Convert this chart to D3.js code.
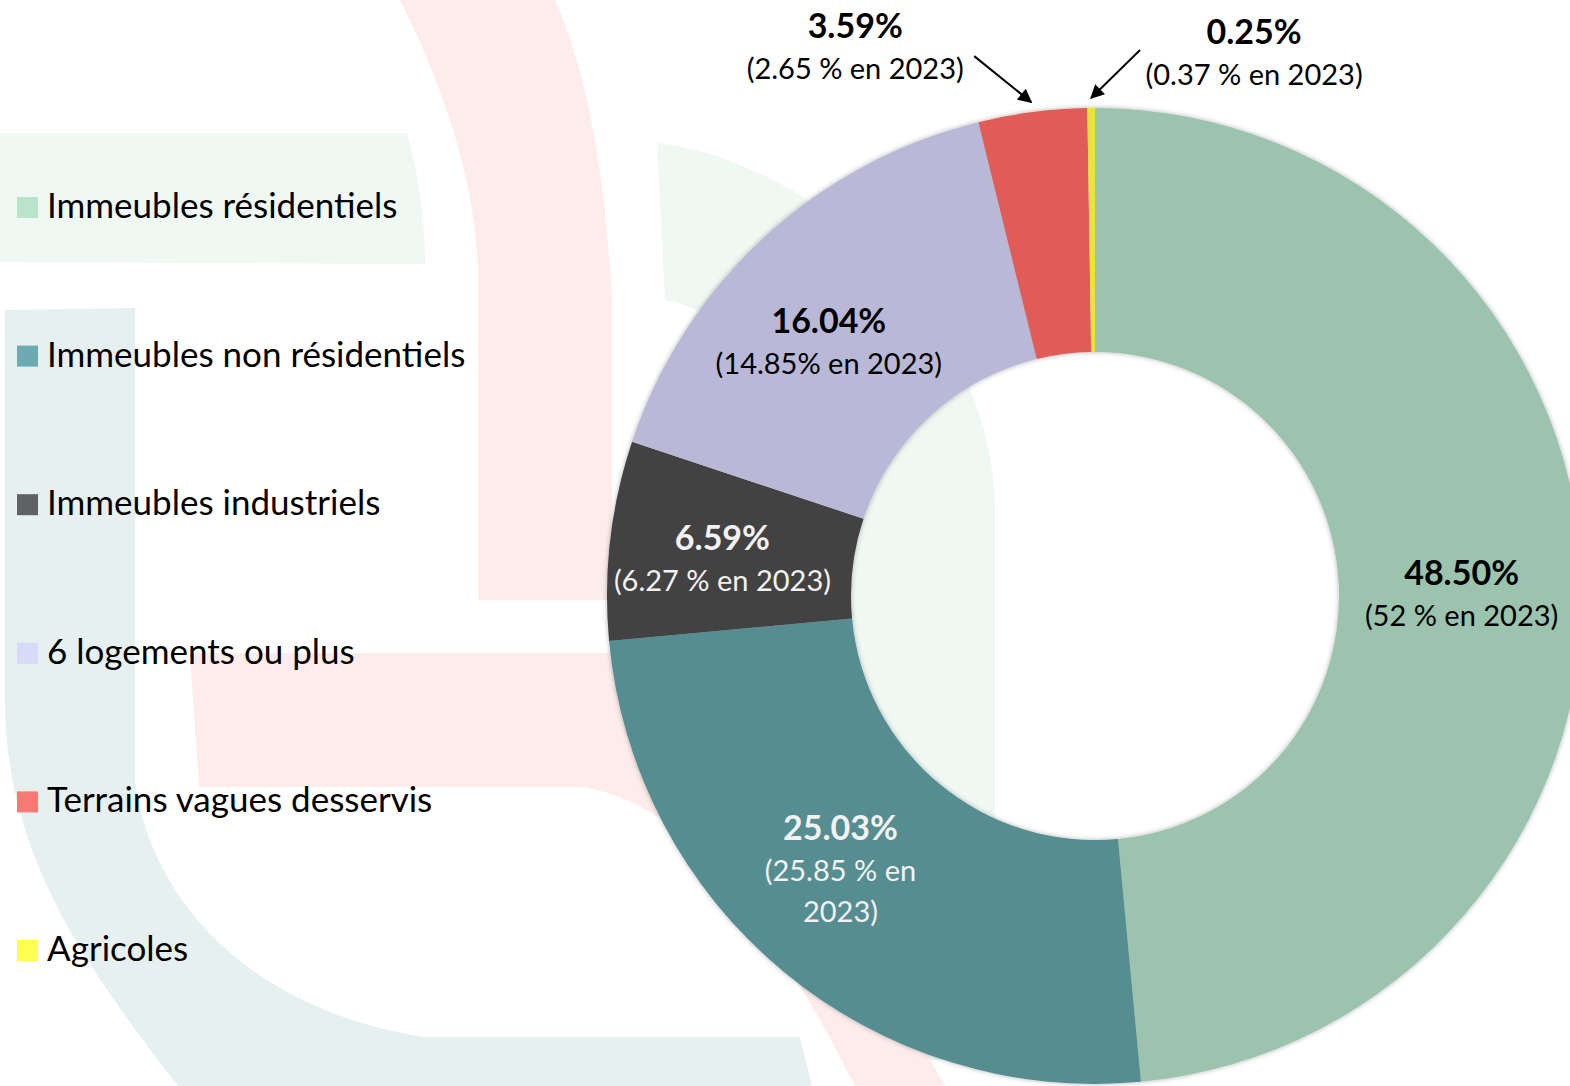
<!DOCTYPE html>
<html>
<head>
<meta charset="utf-8">
<script src="https://cdn.jsdelivr.net/npm/d3@7"></script>
<style>
  html, body { margin: 0; padding: 0; background: #ffffff; }
  svg { display: block; }
  text { font-family: Lato, "Open Sans", "Noto Sans", sans-serif; }
</style>
</head>
<body>
<svg id="chart" width="1570" height="1086"></svg>
<script>
// ---------- data ----------
const categories = [
  "Immeubles résidentiels",
  "Immeubles non résidentiels",
  "Immeubles industriels",
  "6 logements ou plus",
  "Terrains vagues desservis",
  "Agricoles"
];
const share2024 = [48.50, 25.03, 6.59, 16.04, 3.59, 0.25];
const share2023 = [52, 25.85, 6.27, 14.85, 2.65, 0.37];
const label2023Lines = [
  ["(52 % en 2023)"],
  ["(25.85 % en", "2023)"],
  ["(6.27 % en 2023)"],
  ["(14.85% en 2023)"],
  ["(2.65 % en 2023)"],
  ["(0.37 % en 2023)"]
];

// ---------- styles ----------
const legendColors = ["#B7E4CB", "#6BABB1", "#5F6163", "#D8DBF7", "#F77B72", "#FFFF4F"];
const sliceColors  = ["#9BC3AD", "#548D91", "#434343", "#B9B9D7", "#E05C57", "#E8E438"];
const textColors   = ["#000000", "#F2F2F2", "#F2F2F2", "#000000", "#000000", "#000000"];
// inside-label offsets from arc centroid (first line baseline)
const insideOffsets = [[1, 6], [-21, -38], [-9, -4], [-18, 6], null, null];
// callouts for small slices: offsets from arrow tip
const callouts = [null, null, null, null,
  { tail: [-57, -46], label: [-176, -64] },
  { tail: [49, -48], label: [163, -54] }
];

const W = 1570, H = 1086;
const cx = 1095, cy = 596, R = 488, r0 = 244;
const legendFont = 35, boldFont = 34, regFont = 29, lineGap = 41;

const svg = d3.select("#chart");
const defs = svg.append("defs");

// soft shadow
const f = defs.append("filter").attr("id", "soft").attr("x", "-10%").attr("y", "-10%")
  .attr("width", "120%").attr("height", "120%");
f.append("feDropShadow").attr("dx", 0).attr("dy", 0).attr("stdDeviation", 2.5)
  .attr("flood-color", "#000").attr("flood-opacity", 0.3);

defs.append("marker").attr("id", "arrow").attr("viewBox", "0 0 10 10")
  .attr("refX", 9).attr("refY", 5).attr("markerWidth", 8).attr("markerHeight", 7)
  .attr("markerUnits", "strokeWidth").attr("orient", "auto")
  .append("path").attr("d", "M0,0 L10,5 L0,10 Z").attr("fill", "#000");

// ---------- watermark (decorative background logo) ----------
const wm = svg.append("g").attr("class", "watermark");
wm.append("path").attr("fill", "#EFF8F3")
  .attr("d", "M0,133 L407,133 C418,170 425,220 425,264 L0,262 Z");
wm.append("path").attr("fill", "#EFF8F3")
  .attr("d", "M657,143 C800,160 985,300 995,500 L995,1060 L860,1060 L830,560 C830,420 760,320 665,300 Z");
wm.append("path").attr("fill", "#FDECEA")
  .attr("d", "M400,0 C440,80 478,180 478,280 L478,600 L612,600 L612,300 C605,180 590,80 555,0 Z");
wm.append("path").attr("fill", "#FDECEA")
  .attr("d", "M190,653 L700,653 L945,1086 L855,1086 C760,900 680,800 580,787 L199,787 Z");
wm.append("path").attr("fill", "#E7F0F1")
  .attr("d", "M5,310 L135,308 L135,780 C150,900 250,1010 424,1037 L800,1037 L812,1086 L178,1086 C80,960 5,850 5,700 Z");

// ---------- donut ----------
const data = categories.map((c, i) => ({ name: c, value: share2024[i], i }));
const pie = d3.pie().sort(null).value(d => d.value).startAngle(0).endAngle(2 * Math.PI);
const arcs = pie(data);
const arc = d3.arc().innerRadius(r0).outerRadius(R);
const mid = d3.arc().innerRadius((r0 + R) / 2).outerRadius((r0 + R) / 2);

const g = svg.append("g").attr("transform", `translate(${cx},${cy})`);
g.append("g").attr("filter", "url(#soft)")
  .selectAll("path").data(arcs).join("path")
  .attr("d", arc)
  .attr("fill", d => sliceColors[d.data.i]);

// ---------- labels ----------
const fmt = v => v.toFixed(2) + "%";
arcs.forEach(d => {
  const i = d.data.i;
  let x, y;
  if (insideOffsets[i]) {
    const c = mid.centroid(d);
    x = c[0] + insideOffsets[i][0];
    y = c[1] + insideOffsets[i][1];
  } else {
    const a = (d.startAngle + d.endAngle) / 2;
    const tr = R + 10;
    const tip = [Math.sin(a) * tr, -Math.cos(a) * tr];
    const co = callouts[i];
    g.append("line")
      .attr("x1", tip[0] + co.tail[0]).attr("y1", tip[1] + co.tail[1])
      .attr("x2", tip[0]).attr("y2", tip[1])
      .attr("stroke", "#000").attr("stroke-width", 2)
      .attr("marker-end", "url(#arrow)");
    x = tip[0] + co.label[0];
    y = tip[1] + co.label[1];
  }
  const t = g.append("text").attr("text-anchor", "middle").attr("fill", textColors[i]);
  t.append("tspan").attr("x", x).attr("y", y).attr("font-weight", 700)
    .attr("font-size", boldFont).text(fmt(share2024[i]));
  label2023Lines[i].forEach((ln, k) => {
    t.append("tspan").attr("x", x).attr("y", y + lineGap * (k + 1))
      .attr("font-size", regFont).text(ln);
  });
});

// ---------- legend ----------
const legend = svg.append("g").attr("class", "legend");
const legendY = d3.scalePoint().domain(categories).range([218, 961]);
const items = legend.selectAll("g").data(categories).join("g")
  .attr("transform", d => `translate(17,${legendY(d)})`);
items.append("rect").attr("x", 0).attr("y", -21).attr("width", 21).attr("height", 21)
  .attr("fill", (d, i) => legendColors[i]);
items.append("text").attr("x", 30).attr("y", 0).attr("font-size", legendFont)
  .attr("fill", "#000").text(d => d);
</script>
</body>
</html>
